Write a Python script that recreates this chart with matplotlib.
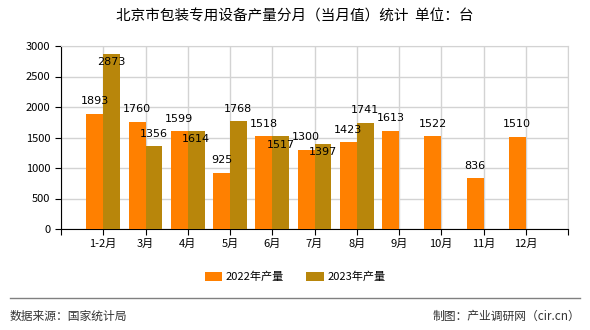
import matplotlib
matplotlib.use('Agg')
from matplotlib import pyplot as plt
import numpy as np

plt.rcParams['font.family'] = ['Noto Sans CJK SC', 'DejaVu Sans']

months = ['1-2月', '3月', '4月', '5月', '6月', '7月', '8月', '9月', '10月', '11月', '12月']
prod_2022 = [1893, 1760, 1599, 925, 1518, 1300, 1423, 1613, 1522, 836, 1510]
prod_2023 = [2873, 1356, 1614, 1768, 1517, 1397, 1741]
# where the 2023 value label sits: above the bar or just inside its top
label_inside_2023 = [True, False, True, False, True, True, False]

c22 = '#FF8000'
c23 = '#B8860B'

fig = plt.figure(figsize=(5.9, 3.3), dpi=100)
ax = fig.add_axes([61 / 590, 1 - 229 / 330, 507 / 590, 183 / 330])

x = np.arange(len(months))
w = 0.4
ax.bar(x - w / 2, prod_2022, w, color=c22, zorder=3, label='2022年产量')
x23 = x[:len(prod_2023)]
ax.bar(x23 + w / 2, prod_2023, w, color=c23, zorder=3, label='2023年产量')

for xi, v in zip(x, prod_2022):
	ax.annotate(str(v), (xi - w / 2, v), xytext=(0, 9), textcoords='offset points',
				ha='center', va='center', fontsize=8, family='DejaVu Sans', zorder=5)
for xi, v, inside in zip(x23, prod_2023, label_inside_2023):
	off = -6 if inside else 9
	ax.annotate(str(v), (xi + w / 2, v), xytext=(0, off), textcoords='offset points',
				ha='center', va='center', fontsize=8, family='DejaVu Sans', zorder=5)

ax.set_xlim(-1, len(months))
ax.set_ylim(0, 3000)
ax.set_yticks(range(0, 3001, 500))
ax.set_xticks(range(-1, len(months) + 1))
ax.set_xticklabels([''] + months + [''], fontsize=8)
ax.tick_params(axis='y', labelsize=8, length=4, direction='out')
ax.tick_params(axis='x', length=4, direction='out', pad=3)
ax.grid(True, color='#D3D3D3', linewidth=1, zorder=0)
for s in ['top', 'right']:
	ax.spines[s].set_color('#D3D3D3')
ax.spines['left'].set_color('black')
ax.spines['bottom'].set_color('black')

fig.text(0.5, 1 - 17 / 330, '北京市包装专用设备产量分月（当月值）统计  单位：台',
		 ha='center', va='center', fontsize=10.5)

fig.legend(loc='center', bbox_to_anchor=(0.5, 1 - 277 / 330), ncol=2, frameon=False,
		   fontsize=8, handlelength=1.6, handleheight=0.8, columnspacing=2.0, handletextpad=0.3)

fig.add_artist(plt.Line2D([10 / 590, 580 / 590], [1 - 298 / 330] * 2, color='#808080', linewidth=1))
fig.text(10 / 590, 1 - 316 / 330, '数据来源：国家统计局', ha='left', va='center', fontsize=8.5, color='#333333')
fig.text(580 / 590, 1 - 316 / 330, '制图：产业调研网（cir.cn）', ha='right', va='center', fontsize=8.5, color='#333333')

fig.savefig('out.png', dpi=100)
